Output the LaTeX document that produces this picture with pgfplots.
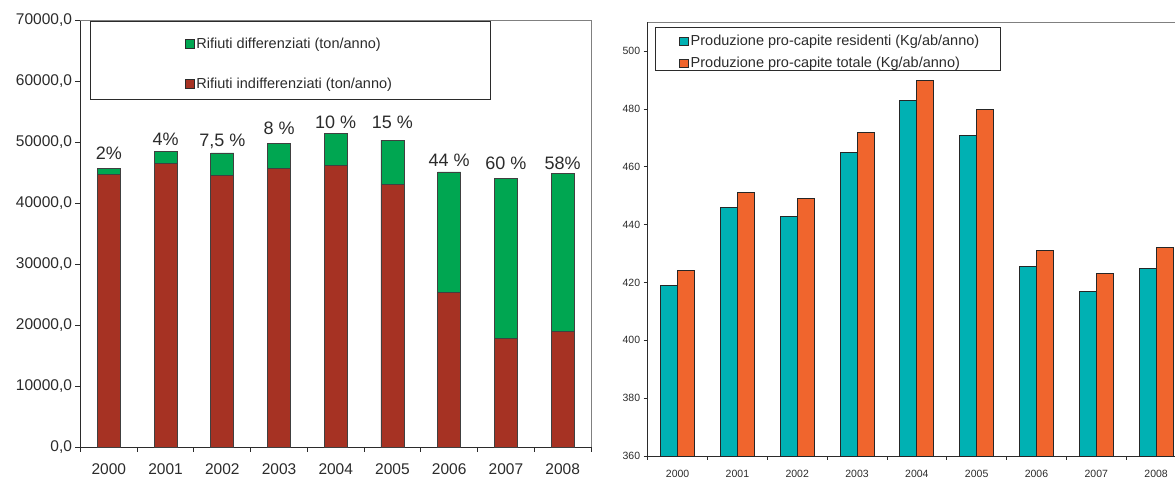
\documentclass[border=0pt]{standalone}
\usepackage{fontspec}
\setmainfont{Liberation Sans}
\usepackage{pgfplots}
\usepackage{pgfplotstable}
\pgfplotsset{compat=1.18}

\definecolor{brick}{HTML}{A63223}
\definecolor{rgreen}{HTML}{00A651}
\definecolor{tealbar}{HTML}{00B1B3}
\definecolor{orangebar}{HTML}{F0652D}
\definecolor{txt}{HTML}{2B2B2B}

\pgfplotsset{
  squarelegend/.style={
    legend image code/.code={\draw[##1, draw=txt, line width=0.8pt] (0pt,-4.4pt) rectangle (8.8pt,4.4pt);}
  },
}
\tikzset{pct/.style={font=\fontsize{18}{18}\selectfont, text=txt, anchor=center}}

% Rifiuti urbani (ton/anno): indifferenziati e differenziati
\pgfplotstableread{
x  indiff  diff
0  44700   900
1  46500   1900
2  44500   3700
3  45600   4200
4  46100   5250
5  43100   7200
6  25350   19750
7  17800   26250
8  19000   25900
}\rifiuti

% Produzione pro-capite (Kg/ab/anno)
\pgfplotstableread{
x  res    tot
0  419    424
1  446    451
2  443    449
3  465    472
4  483    490
5  471    480
6  425.5  431
7  417    423
8  425    432
}\procapite

\begin{document}
\begin{tikzpicture}
\useasboundingbox (0pt,0pt) rectangle (1175pt,478pt);
\clip (0pt,0pt) rectangle (1175pt,478pt);

% ---------------- Rifiuti differenziati / indifferenziati ----------------
\begin{axis}[
  at={(80.5pt,31pt)}, anchor=south west,
  scale only axis, width=510.5pt, height=427pt,
  xmin=-0.5, xmax=8.5, ymin=0, ymax=70000,
  clip=false,
  ybar stacked, bar width=23pt,
  axis x line*=bottom, axis y line*=left,
  axis line style={txt, line width=0.9pt},
  tick align=outside, major tick length=5pt,
  tick style={txt, line width=0.9pt},
  xtick={-0.5,0.5,...,8.5}, x tick label as interval,
  xticklabels={2000,2001,2002,2003,2004,2005,2006,2007,2008},
  x tick label style={font=\fontsize{15.5}{15.5}\selectfont, text=txt, yshift=-8pt},
  ytick={0,10000,...,70000}, scaled y ticks=false,
  yticklabel style={font=\fontsize{15.5}{15.5}\selectfont, text=txt},
  y tick label style={/pgf/number format/fixed, /pgf/number format/fixed zerofill,
    /pgf/number format/precision=1, /pgf/number format/use comma,
    /pgf/number format/1000 sep={}, /pgf/number format/assume math mode=true},
  squarelegend,
  legend style={draw=none, fill=none, at={(rel axis cs:0.204,0.964)}, anchor=north west,
    font=\fontsize{14.5}{14.5}\selectfont, text=txt, row sep=24pt,
    inner sep=0pt, cells={anchor=west}},
]
\addlegendimage{fill=rgreen, draw=black!75}
\addlegendentry{Rifiuti differenziati (ton/anno)}
\addplot[fill=brick, draw=black!75, line width=0.7pt] table[x=x, y=indiff] {\rifiuti};
\addlegendentry{Rifiuti indifferenziati (ton/anno)}
\addplot[fill=rgreen, draw=black!75, line width=0.7pt, forget plot] table[x=x, y=diff] {\rifiuti};

\draw[gray, line width=0.9pt] (rel axis cs:0,1) -- (rel axis cs:1,1) -- (rel axis cs:1,0);
\draw[txt, line width=0.8pt] (rel axis cs:0.02,0.815) rectangle (rel axis cs:0.803,0.9977);

\node[pct] at (axis cs:0,48100) {2\%};
\node[pct] at (axis cs:1,50500) {4\%};
\node[pct] at (axis cs:2,50100) {7,5 \%};
\node[pct] at (axis cs:3,52295) {8 \%};
\node[pct] at (axis cs:4,53148) {10 \%};
\node[pct] at (axis cs:5,53148) {15 \%};
\node[pct] at (axis cs:6,47049) {44 \%};
\node[pct] at (axis cs:7,46557) {60 \%};
\node[pct] at (axis cs:8,46557) {58\%};
\end{axis}

% ---------------- Produzione pro-capite ----------------
\begin{axis}[
  at={(647.7pt,22pt)}, anchor=south west,
  scale only axis, width=538.3pt, height=433.7pt,
  xmin=-0.5, xmax=8.5, ymin=360, ymax=510,
  clip=false,
  ybar=0pt, bar width=17pt,
  axis x line*=bottom, axis y line*=left,
  axis line style={txt, line width=0.9pt},
  tick align=outside, major tick length=4pt,
  tick style={txt, line width=0.9pt},
  xtick={-0.5,0.5,...,8.5}, x tick label as interval,
  xticklabels={2000,2001,2002,2003,2004,2005,2006,2007,2008},
  x tick label style={font=\fontsize{10.5}{10.5}\selectfont, text=txt, yshift=-7pt},
  ytick={360,380,...,500},
  yticklabel style={font=\fontsize{10.5}{10.5}\selectfont, text=txt},
  y tick label style={/pgf/number format/assume math mode=true},
  squarelegend,
  legend style={draw=none, fill=none, at={(rel axis cs:0.058,0.975)}, anchor=north west,
    font=\fontsize{14.5}{14.5}\selectfont, text=txt, row sep=6pt,
    inner sep=0pt, cells={anchor=west}},
]
\addplot[fill=tealbar, draw=black!85, line width=0.9pt] table[x=x, y=res] {\procapite};
\addlegendentry{Produzione pro-capite residenti (Kg/ab/anno)}
\addplot[fill=orangebar, draw=black!85, line width=0.9pt] table[x=x, y=tot] {\procapite};
\addlegendentry{Produzione pro-capite totale (Kg/ab/anno)}

\draw[gray, line width=0.9pt] (rel axis cs:0,1) -- (rel axis cs:1,1) -- (rel axis cs:1,0);
\draw[txt, line width=0.8pt] (rel axis cs:0.01486,0.8893) rectangle (rel axis cs:0.656,0.9875);
\end{axis}
\end{tikzpicture}
\end{document}
